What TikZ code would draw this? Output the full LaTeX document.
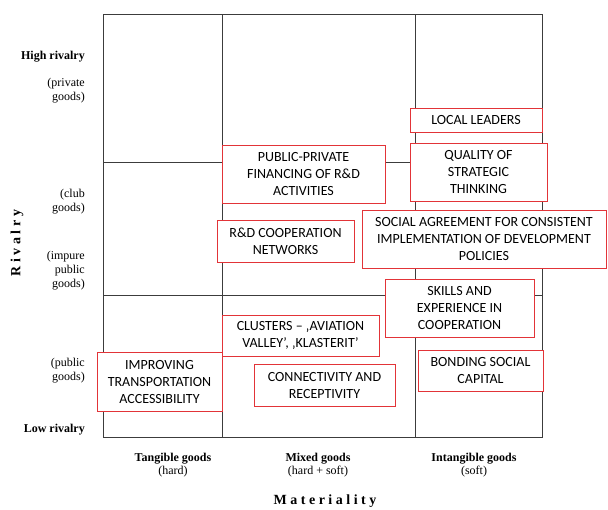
\documentclass[tikz,border=0pt]{standalone}
\usepackage{fontspec}
\setmainfont{Liberation Serif}
\newfontfamily\boxfont{Carlito}
\definecolor{boxred}{RGB}{226,52,56}
\definecolor{gridgray}{RGB}{60,60,60}
\begin{document}
\begin{tikzpicture}[x=1pt,y=-1pt,
  grid/.style={draw=gridgray,line width=1pt},
  item/.style={draw=boxred,fill=white,line width=1pt,inner sep=0pt,align=center,
    font=\boxfont\fontsize{14}{17}\selectfont},
  lab/.style={inner sep=0pt,align=right,anchor=east,font=\fontsize{12}{14}\selectfont},
  axis/.style={inner sep=0pt,align=center,font=\fontsize{12}{13}\selectfont}]
\useasboundingbox (0,0) rectangle (608,509);
% the grid
\coordinate (nw) at (103,14);
\coordinate (se) at (542,437);
\path[grid] (nw) rectangle (se);
\path[grid] (222,14) -- (222,437);
\path[grid] (415,14) -- (415,437);
\path[grid] (103,162) -- (542,162);
\path[grid] (103,295) -- (542,295);
% boxes
\node[item,minimum width=132,minimum height=24] (leaders) at (476,120) {LOCAL LEADERS};
\node[item,minimum width=137,minimum height=58] (quality) at (478.5,172) {QUALITY OF\\STRATEGIC\\THINKING};
\node[item,minimum width=163,minimum height=58] (financing) at (303.5,174) {PUBLIC-PRIVATE\\FINANCING OF R\&D\\ACTIVITIES};
\node[item,minimum width=137,minimum height=42] (networks) at (285.5,241) {R\&D COOPERATION\\NETWORKS};
\node[item,minimum width=244,minimum height=58] (agreement) at (484,239) {SOCIAL AGREEMENT FOR CONSISTENT\\IMPLEMENTATION OF DEVELOPMENT\\POLICIES};
\node[item,minimum width=149,minimum height=58] (skills) at (459.5,308) {SKILLS AND\\EXPERIENCE IN\\COOPERATION};
\node[item,minimum width=125,minimum height=41] (bonding) at (480.5,370.5) {BONDING SOCIAL\\CAPITAL};
\node[item,minimum width=157,minimum height=41] (clusters) at (300.5,335.5) {CLUSTERS – ‚AVIATION\\VALLEY’, ‚KLASTERIT’};
\node[item,minimum width=141,minimum height=42] (connect) at (324.5,385) {CONNECTIVITY AND\\RECEPTIVITY};
\node[item,minimum width=125,minimum height=59] (transport) at (159.5,381.5) {IMPROVING\\TRANSPORTATION\\ACCESSIBILITY};
% rivalry axis
\node[lab,font=\bfseries\fontsize{12}{14}\selectfont] (high) at (85,57) {High rivalry};
\node[lab] (private) at (85,91) {(private\\goods)};
\node[lab] (club) at (85,202) {(club\\goods)};
\node[lab] (impure) at (85,271) {(impure\\public\\goods)};
\node[lab] (public) at (85,371) {(public\\goods)};
\node[lab,font=\bfseries\fontsize{12}{14}\selectfont] (low) at (85,430) {Low rivalry};
\node[rotate=90,font=\bfseries\fontsize{14}{15}\selectfont] (rivalry) at (17,243) {R i v a l r y};
% materiality axis
\node[axis] (tangible) at (173,465) {\textbf{Tangible goods}\\(hard)};
\node[axis] (mixed) at (318,465) {\textbf{Mixed goods}\\(hard + soft)};
\node[axis] (intangible) at (474,465) {\textbf{Intangible goods}\\(soft)};
\node[font=\bfseries\fontsize{14}{15}\selectfont] (materiality) at (325,501) {M a t e r i a l i t y};
\end{tikzpicture}
\end{document}
